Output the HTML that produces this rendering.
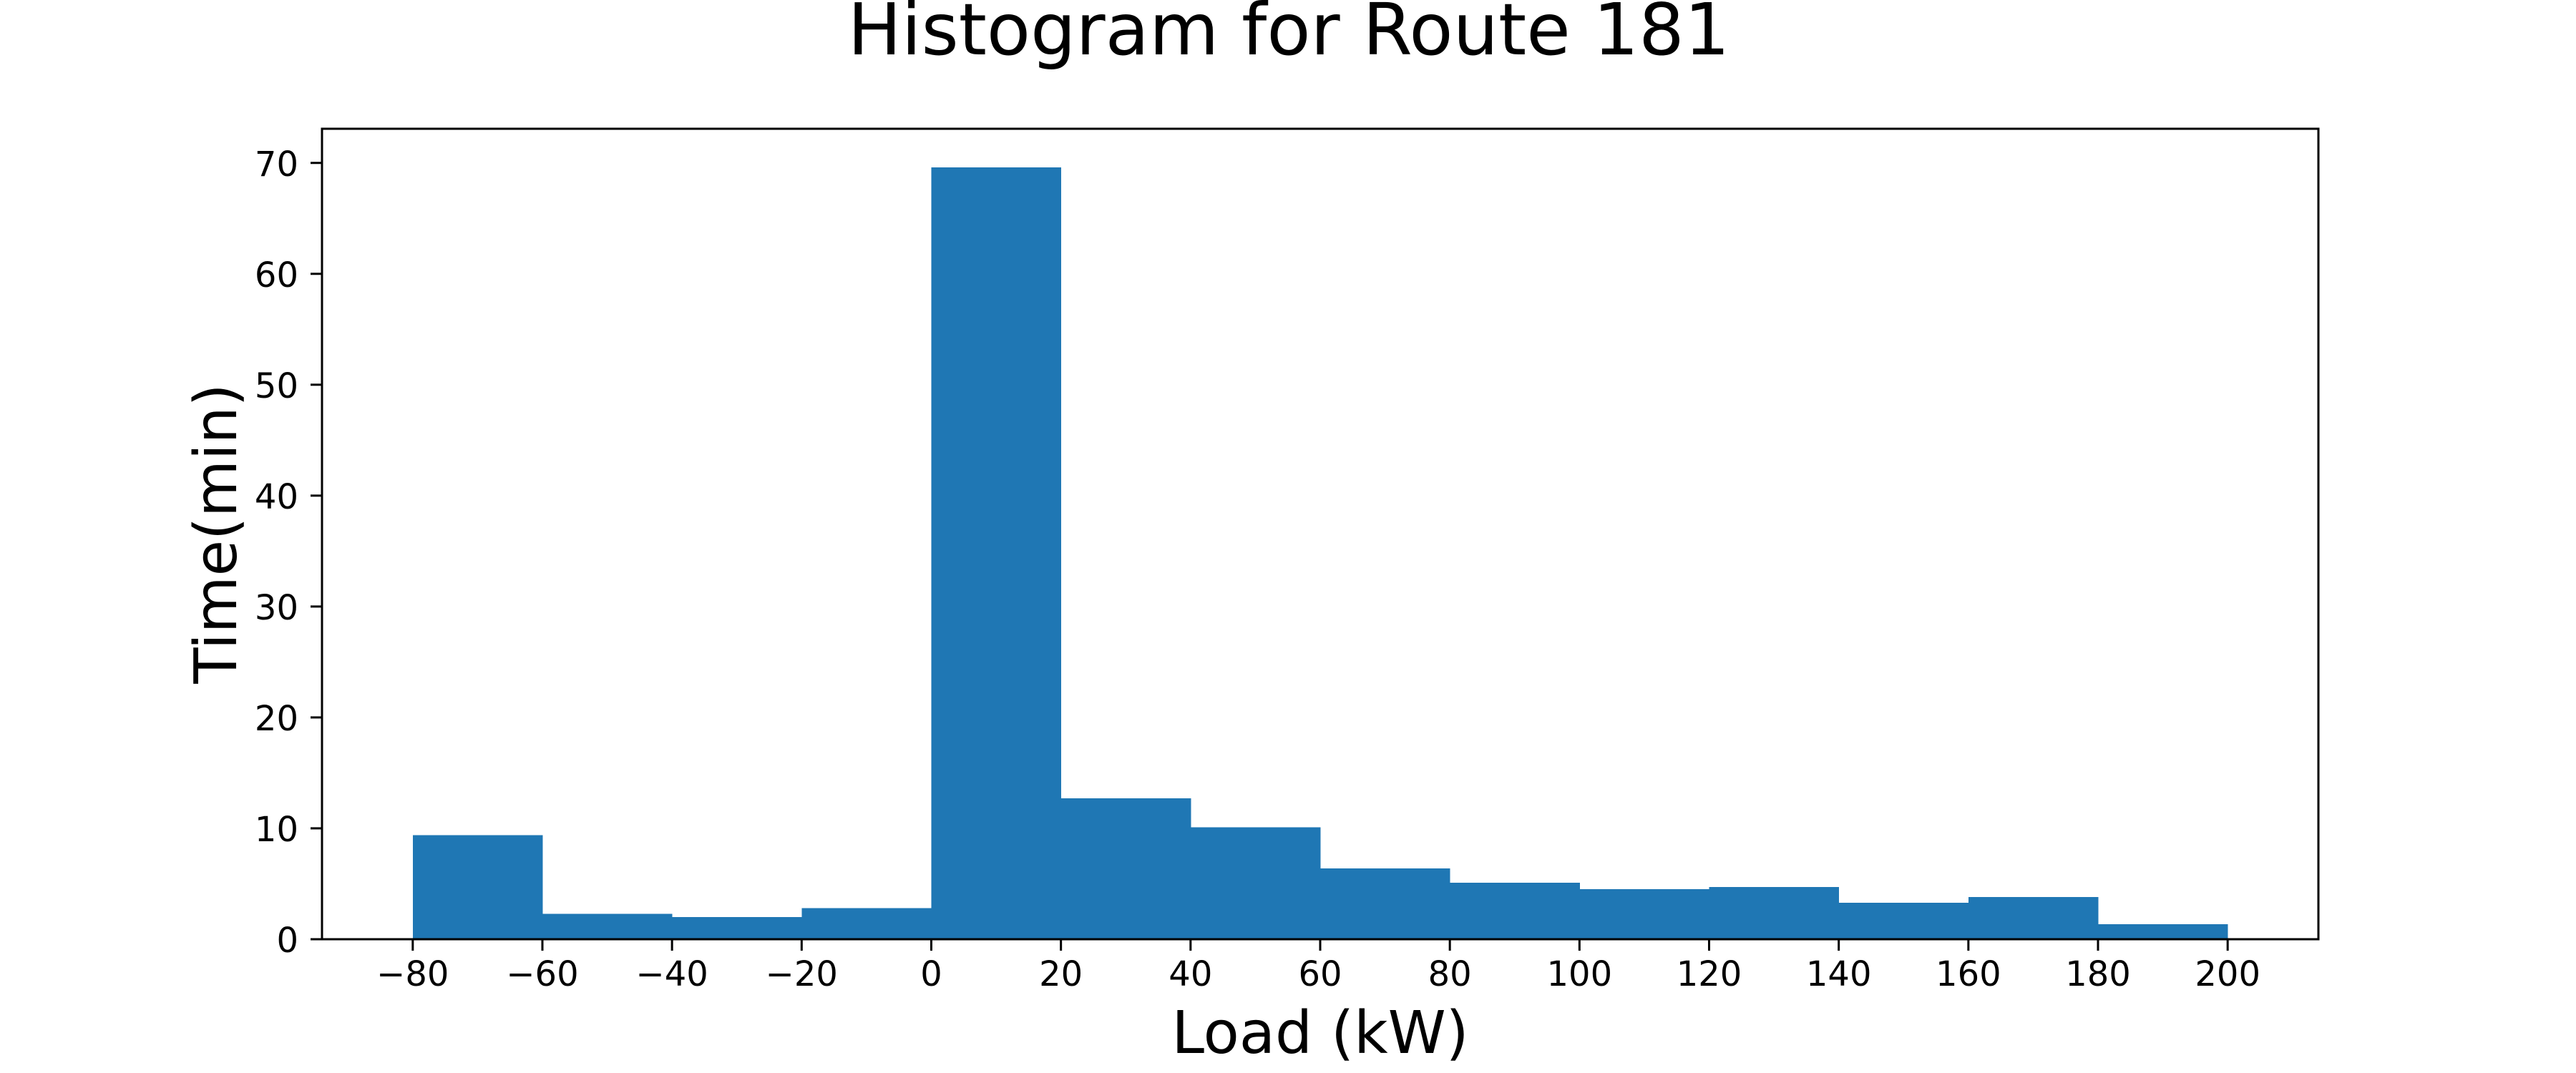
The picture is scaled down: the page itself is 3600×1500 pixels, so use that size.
<!DOCTYPE html>
<html><head><meta charset="utf-8"><style>
html,body{margin:0;padding:0;background:#fff;}
svg{display:block;font-family:"DejaVu Sans","Liberation Sans",sans-serif;}
</style></head><body>
<svg id="chart" width="3600" height="1500" viewBox="0 0 3600 1500" xmlns="http://www.w3.org/2000/svg">
<rect x="0" y="0" width="3600" height="1500" fill="#fff"/>
<text x="1801" y="76" font-size="100" text-anchor="middle">Histogram for Route 181</text>
<g id="bars" shape-rendering="crispEdges"></g>
<g id="xticks"></g>
<g id="yticks"></g>
<rect x="450" y="180" width="2790" height="1133" fill="none" stroke="#000" stroke-width="3"/>
<text x="1845" y="1472" font-size="82" text-anchor="middle">Load (kW)</text>
<text x="0" y="0" font-size="82" text-anchor="middle" transform="translate(330,746) rotate(-90)">Time(min)</text>
</svg>
<script>
const binEdges = [-80,-60,-40,-20,0,20,40,60,80,100,120,140,160,180,200];
const binCounts = [9.4,2.3,2.0,2.8,69.6,12.7,10.1,6.4,5.1,4.5,4.7,3.3,3.8,1.35];
const xTickValues = [-80,-60,-40,-20,0,20,40,60,80,100,120,140,160,180,200];
const yTickValues = [0,10,20,30,40,50,60,70];

const L=450,R=3240,T=180,B=1313;
const xmin=binEdges[0], xmax=binEdges[binEdges.length-1];
const xpad=(xmax-xmin)*0.05;
const x0=xmin-xpad, x1=xmax+xpad;
const ymax=Math.max(...binCounts)*1.05;
const sx=v=>L+(v-x0)/(x1-x0)*(R-L);
const sy=v=>B-v/ymax*(B-T);
const NS="http://www.w3.org/2000/svg";
const bars=document.getElementById('bars');
binCounts.forEach((c,i)=>{
  const r=document.createElementNS(NS,'rect');
  const xa=sx(binEdges[i]), xb=sx(binEdges[i+1]);
  r.setAttribute('x',xa);r.setAttribute('width',xb-xa+0.5);
  r.setAttribute('y',sy(c));r.setAttribute('height',B-sy(c));
  r.setAttribute('fill','#1f77b4');
  
  
  bars.appendChild(r);
});
const xt=document.getElementById('xticks');
xTickValues.forEach(v=>{
  const x=sx(v);
  const l=document.createElementNS(NS,'line');
  l.setAttribute('x1',x);l.setAttribute('x2',x);l.setAttribute('y1',B);l.setAttribute('y2',B+16);
  l.setAttribute('stroke','#000');l.setAttribute('stroke-width','3');
  
  
  xt.appendChild(l);
  const t=document.createElementNS(NS,'text');
  t.setAttribute('x',x);t.setAttribute('y',1378);t.setAttribute('font-size','48');t.setAttribute('text-anchor','middle');
  t.textContent=(v<0?'\u2212':'')+Math.abs(v);
  
  
  xt.appendChild(t);
});
const yt=document.getElementById('yticks');
yTickValues.forEach(v=>{
  const y=sy(v);
  const l=document.createElementNS(NS,'line');
  l.setAttribute('x1',L-16);l.setAttribute('x2',L);l.setAttribute('y1',y);l.setAttribute('y2',y);
  l.setAttribute('stroke','#000');l.setAttribute('stroke-width','3');
  
  
  yt.appendChild(l);
  const t=document.createElementNS(NS,'text');
  t.setAttribute('x',417);t.setAttribute('y',y+18);t.setAttribute('font-size','48');t.setAttribute('text-anchor','end');
  t.textContent=String(v);
  
  
  yt.appendChild(t);
});
</script>
</body></html>
